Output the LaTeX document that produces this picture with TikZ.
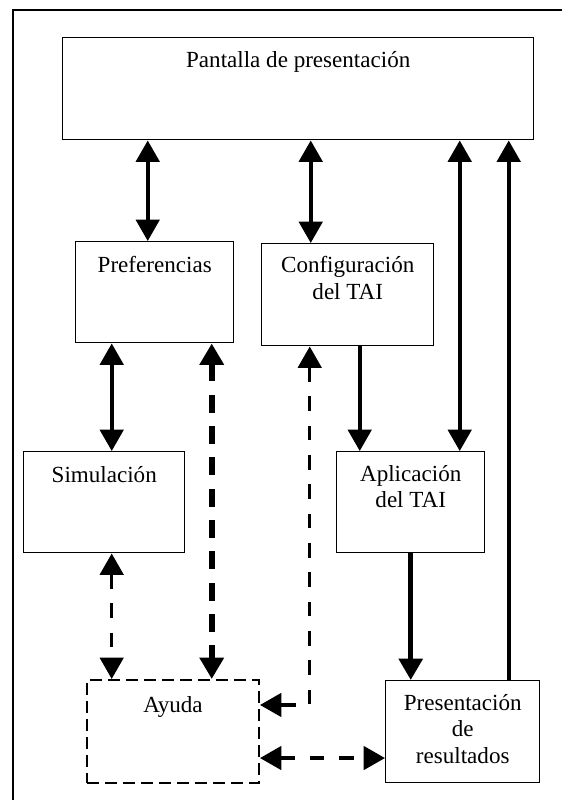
\documentclass[tikz,border=0pt]{standalone}
\usepackage{fontspec}
\setmainfont{Liberation Serif}
\usetikzlibrary{arrows.meta,positioning}
\newcommand{\letra}{\fontsize{17.3}{20}\selectfont}
\tikzset{
  >={Triangle[width=17.5pt,length=16pt]},
  caja/.style={draw, line width=1.1pt, anchor=north west, inner sep=0pt},
  rotulo/.style={font=\letra, align=center, inner sep=0pt},
  plein/.style={line width=2.8pt},
  trait/.style={line width=2.6pt, dash pattern=on 11pt off 11pt},
}
\begin{document}
\begin{tikzpicture}[x=0.75pt, y=-0.75pt]
\useasboundingbox (0,0) rectangle (562,800);
% cadre
\draw[line width=1.1pt] (562,10) -- (13,10) -- (13,800);

% boîtes
\node[caja, minimum width=353.25pt, minimum height=76.5pt] (pant) at (62,37) {};
\node[caja, minimum width=118.5pt, minimum height=75.75pt] (pref) at (75,241) {};
\node[caja, minimum width=129pt, minimum height=76.5pt] (conf) at (261,243) {};
\node[caja, minimum width=120.75pt, minimum height=75.75pt] (sim) at (23,451) {};
\node[caja, minimum width=111pt, minimum height=75.75pt] (apl) at (336,451) {};
\node[caja, line width=1.5pt, dash pattern=on 9pt off 4.5pt, minimum width=129pt, minimum height=77.25pt] (ayu) at (86,679) {};
\node[caja, minimum width=115.5pt, minimum height=76.5pt] (pres) at (385,680) {};

% textes
\node[rotulo, below=10.5pt of pant.north] (pantt) {Pantalla de presentación};
\node[rotulo, below=11.25pt of pref.north] (preft) {Preferencias};
\node[rotulo, below=10pt of conf.north] (conft) {Configuración\\del TAI};
\node[rotulo, below=11.25pt of sim.north] (simt) {Simulación};
\node[rotulo, below=10.5pt of apl.north] (aplt) {Aplicación\\del TAI};
\node[rotulo, below=12.75pt of ayu.north] (ayut) {Ayuda};
\node[rotulo, below=10.5pt of pres.north] (prest) {Presentación\\de\\resultados};

% flèches pleines
\draw[plein,<->] ([xshift=-5.25pt]pref.north) -- ([xshift=-5.25pt]pref.north |- pant.south);
\draw[plein,<->] ([xshift=-27.75pt]conf.north) -- ([xshift=-27.75pt]conf.north |- pant.south);
\draw[plein,<->] ([xshift=36.75pt]apl.north) -- ([xshift=36.75pt]apl.north |- pant.south);
\draw[plein,->] ([xshift=34.5pt]pres.north) -- ([xshift=34.5pt]pres.north |- pant.south);
\draw[plein,<->] ([xshift=-32.25pt]pref.south) -- ([xshift=-32.25pt]pref.south |- sim.north);
\draw[plein,->] ([xshift=9pt]conf.south) -- ([xshift=9pt]conf.south |- apl.north);
\draw[plein,line width=3.6pt,->] (apl.south) -- (apl.south |- pres.north);

% flèches pointillées
\draw[trait,line width=4.5pt,dash pattern=on 13.5pt off 10pt,<->] ([xshift=42.75pt]pref.south) -- ([xshift=42.75pt]pref.south |- ayu.north);
\draw[trait,<->] ([xshift=5.6pt]sim.south) -- ([xshift=5.6pt]sim.south |- ayu.north);
\draw[trait,<->] ([xshift=-28.5pt]conf.south) |- ([yshift=19.9pt]ayu.east);
\draw[trait,<->] ([yshift=-19.9pt]ayu.east) -- ([yshift=-19.9pt]ayu.east -| pres.west);
\end{tikzpicture}
\end{document}
